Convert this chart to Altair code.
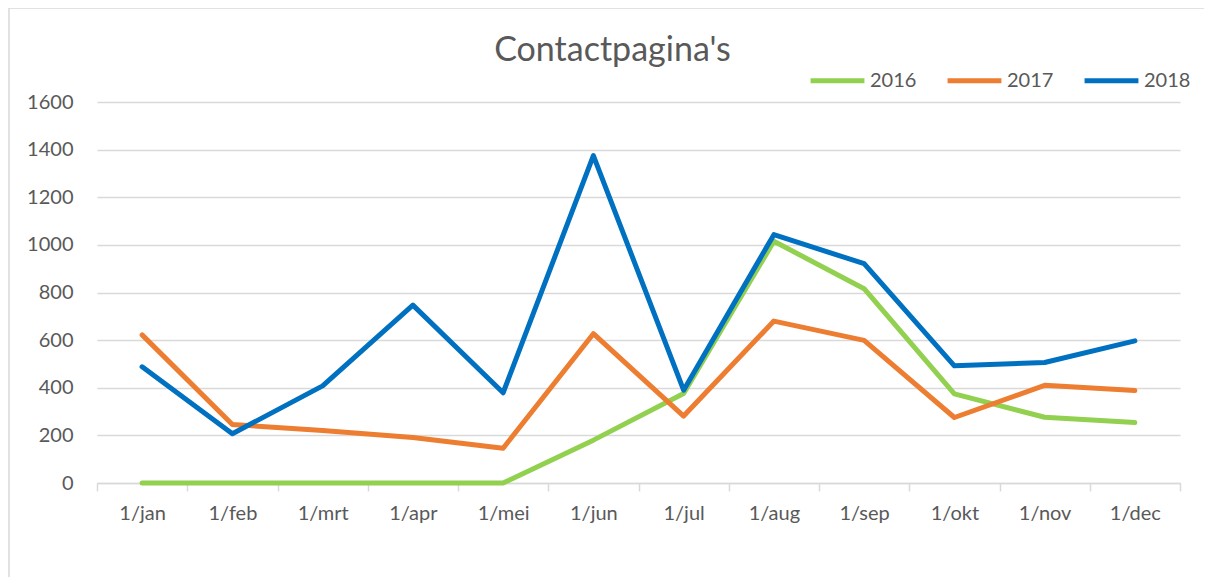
import altair as alt
import pandas as pd

months = ["1/jan", "1/feb", "1/mrt", "1/apr", "1/mei", "1/jun",
          "1/jul", "1/aug", "1/sep", "1/okt", "1/nov", "1/dec"]
v2016 = [0, 0, 0, 0, 0, 180, 376, 1015, 816, 374, 276, 254]
v2017 = [622, 246, 220, 191, 146, 627, 281, 680, 599, 275, 410, 388]
v2018 = [488, 207, 408, 747, 379, 1375, 390, 1043, 921, 492, 506, 597]
series = ["2016", "2017", "2018"]
colors = ["#92D050", "#ED7D31", "#0070C0"]

rows = []
for name, vals in zip(series, [v2016, v2017, v2018]):
    for i, (m, v) in enumerate(zip(months, vals)):
        rows.append({"maand": m, "waarde": v, "jaar": name, "order": i})
df = pd.DataFrame(rows)

FONT = "Lato"
GREY = "#595959"
BORDER = "#d9d9d9"

lines = alt.Chart(df).mark_line(strokeWidth=5, strokeCap="round", strokeJoin="round").encode(
    x=alt.X("maand:N", sort=months, title=None,
            scale=alt.Scale(paddingInner=0, paddingOuter=0),
            axis=alt.Axis(labelAngle=0, tickBand="extent", domainColor=BORDER,
                          domainWidth=1.5, tickColor=BORDER, tickWidth=1.5,
                          tickSize=8, labelPadding=12, grid=False,
                          labelFontSize=20, labelColor=GREY, labelFont=FONT)),
    y=alt.Y("waarde:Q", title=None,
            scale=alt.Scale(domain=[0, 1600], nice=False),
            axis=alt.Axis(values=list(range(0, 1601, 200)), domain=False, ticks=False,
                          format="d", labelPadding=24, gridColor=BORDER, gridWidth=1.5,
                          labelFontSize=20, labelColor=GREY, labelFont=FONT)),
    color=alt.Color("jaar:N", sort=series,
                    scale=alt.Scale(domain=series, range=colors),
                    legend=alt.Legend(title=None, orient="none", direction="horizontal",
                                      legendX=711, legendY=-51,
                                      symbolType="M-1,0H1", symbolSize=2900,
                                      symbolStrokeWidth=5, columnPadding=20,
                                      labelFontSize=20, labelColor=GREY, labelFont=FONT,
                                      labelOffset=3)),
    order=alt.Order("order:Q"),
)

# outer chart frame (left and top edges visible in the reference)
frame_df = pd.DataFrame({"k": [0]})
left_edge = alt.Chart(frame_df).mark_rule(color=BORDER, strokeWidth=1.5, clip=False).encode(
    x=alt.value(-88), y=alt.value(-94), y2=alt.value(490))
top_edge = alt.Chart(frame_df).mark_rule(color=BORDER, strokeWidth=1.5, clip=False).encode(
    x=alt.value(-88), x2=alt.value(1107), y=alt.value(-94))

chart = alt.layer(left_edge, top_edge, lines).properties(
    width=1083,
    height=381,
    autosize=alt.AutoSizeParams(type="none"),
    padding={"left": 89, "top": 94, "right": 24, "bottom": 94},
    title=alt.TitleParams("Contactpagina's", anchor="middle", dx=-26, offset=-61,
                          fontSize=34, font=FONT, fontWeight="normal", color=GREY),
).configure_view(stroke=None)

chart.save("out.html", embed_options={"renderer": "svg", "actions": False})
